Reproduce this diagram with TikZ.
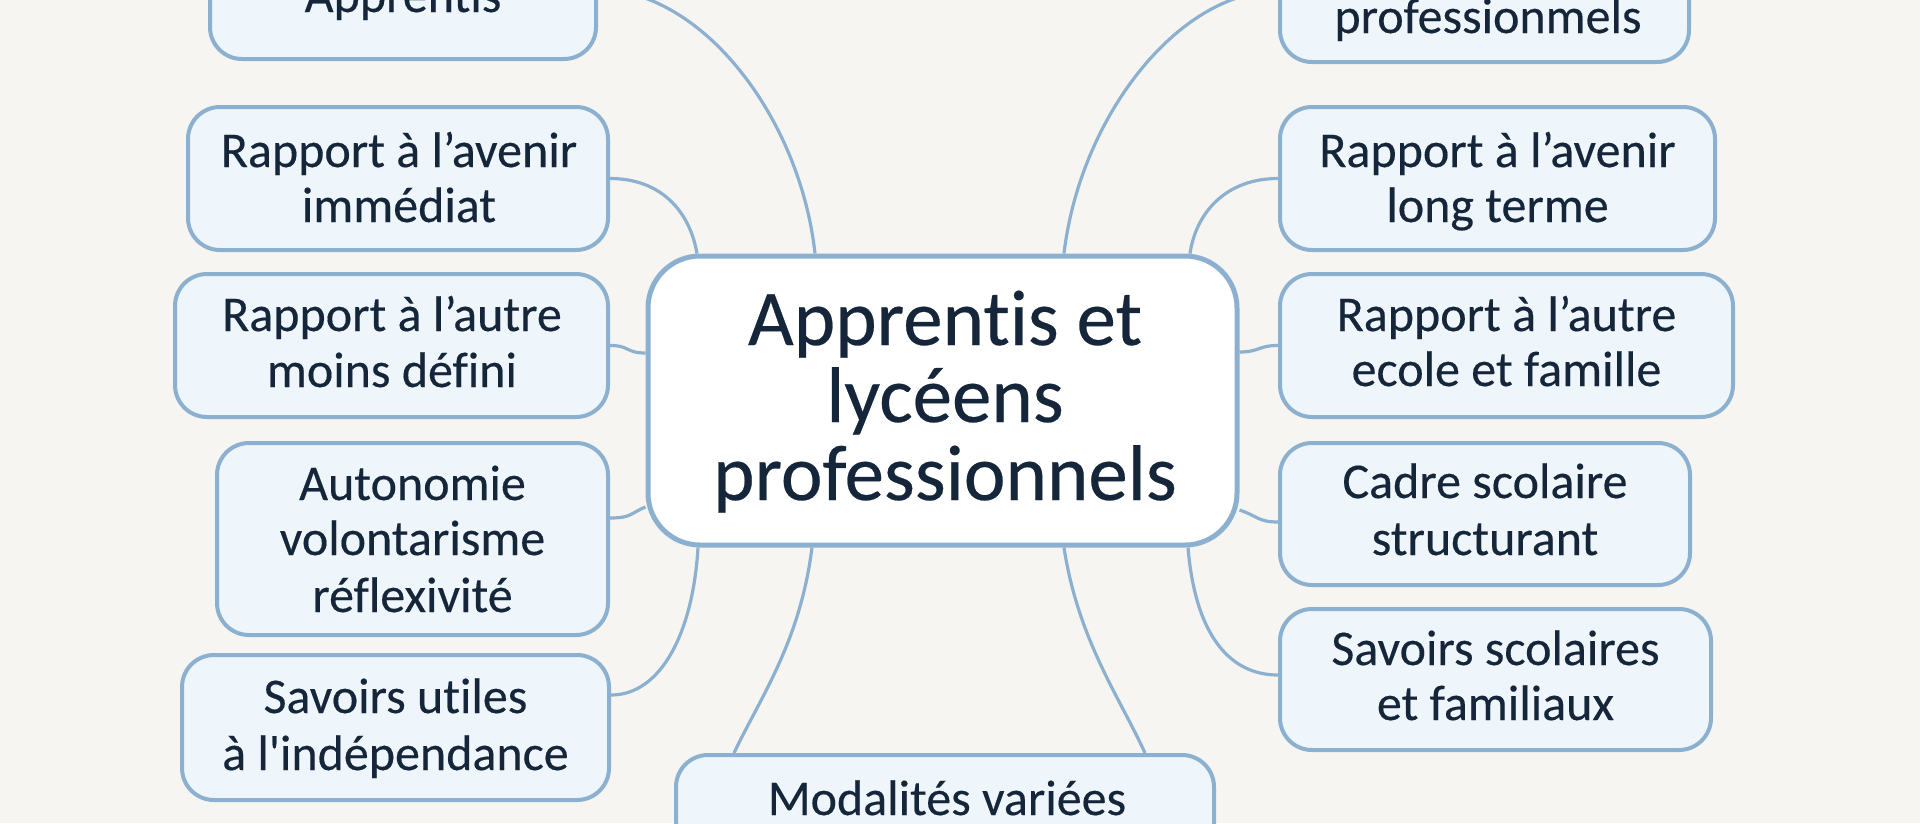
\documentclass[tikz,border=0pt]{standalone}
\usepackage{fontspec}
\setmainfont{Carlito}[Ligatures=NoCommon]
\newfontfamily\plainfont{Carlito}[Ligatures=NoCommon, FakeBold=0.3]
\usetikzlibrary{calc}
\definecolor{bgcol}{HTML}{F7F5F1}
\definecolor{edgecol}{HTML}{8CB0CF}
\definecolor{boxfill}{HTML}{EEF5FB}
\definecolor{ink}{HTML}{16263A}
\pgfdeclarelayer{back}
\pgfdeclarelayer{conn}
\pgfsetlayers{back,conn,main}
\begin{document}
\begin{tikzpicture}[x=1pt,y=-1pt,
  box/.style={draw=edgecol, line width=4pt, fill=boxfill, rounded corners=32pt, inner sep=0pt},
  hub/.style={draw=edgecol, line width=5pt, fill=white, rounded corners=52pt, inner sep=0pt},
  txt/.style={text=ink, font=\plainfont\fontsize{50pt}{55pt}\selectfont, inner sep=0pt, anchor=base},
  ttl/.style={text=ink, font=\plainfont\fontsize{79pt}{78pt}\selectfont, inner sep=0pt, anchor=base},
  conn/.style={draw=edgecol, line width=3.2pt}]
\useasboundingbox (0,0) rectangle (1920,823);
\begin{pgfonlayer}{back}
\fill[bgcol] (0,0) rectangle (1920,823);
\end{pgfonlayer}

% hub
\node[hub, minimum width=589pt, minimum height=289pt] (C) at (942.5,400.5) {};
\node[ttl] (Ca) at (945,345) {Apprentis et};
\node[ttl] (Cb) at (945,422) {lycéens};
\node[ttl] (Cc) at (945,500) {professionnels};

% left column
\node[box, minimum width=386pt, minimum height=139pt] (L0) at (403,-10.5) {};
\node[txt] (L0a) at (403,12) {Apprentis};

\node[box, minimum width=420pt, minimum height=143pt] (L1) at (398,178.5) {};
\node[txt] (L1a) at (399,167) {Rapport à l’avenir};
\node[txt] (L1b) at (399,222) {immédiat};

\node[box, minimum width=433pt, minimum height=143pt] (L2) at (391.5,345.5) {};
\node[txt] (L2a) at (392,331) {Rapport à l’autre};
\node[txt] (L2b) at (392,387) {moins défini};

\node[box, minimum width=391pt, minimum height=192pt] (L3) at (412.5,539) {};
\node[txt] (L3a) at (412.5,500) {Autonomie};
\node[txt] (L3b) at (412.5,555) {volontarisme};
\node[txt] (L3c) at (412.5,612) {réflexivité};

\node[box, minimum width=427pt, minimum height=145pt] (L4) at (395.5,727.5) {};
\node[txt] (L4a) at (395.5,713) {Savoirs utiles};
\node[txt] (L4b) at (395.5,770) {à l'indépendance};

% bottom
\node[box, minimum width=538pt, minimum height=145pt] (B) at (945,827.5) {};
\node[txt] (Ba) at (947,815) {Modalités variées};

% right column
\node[box, minimum width=409pt, minimum height=142pt] (R0) at (1484.5,-9) {};
\node[txt] (R0a) at (1488,33) {professionmels};

\node[box, minimum width=435pt, minimum height=143pt] (R1) at (1497.5,178.5) {};
\node[txt] (R1a) at (1497.5,167) {Rapport à l’avenir};
\node[txt] (R1b) at (1497.5,222) {long terme};

\node[box, minimum width=453pt, minimum height=143pt] (R2) at (1506.5,345.5) {};
\node[txt] (R2a) at (1506.5,331) {Rapport à l’autre};
\node[txt] (R2b) at (1506.5,386) {ecole et famille};

\node[box, minimum width=410pt, minimum height=142pt] (R3) at (1485,514) {};
\node[txt] (R3a) at (1485,498) {Cadre scolaire};
\node[txt] (R3b) at (1485,555) {structurant};

\node[box, minimum width=431pt, minimum height=141pt] (R4) at (1495.5,679.5) {};
\node[txt] (R4a) at (1495.5,665) {Savoirs scolaires};
\node[txt] (R4b) at (1495.5,720) {et familiaux};

% connector end points
\coordinate (p1a) at (L0.east);
\coordinate (p1b) at ([xshift=-127.5pt]C.north);
\coordinate (p2a) at (L1.east);
\coordinate (p2b) at ([xshift=-245.5pt]C.north);
\coordinate (p3a) at (L2.east);
\coordinate (p3b) at ([yshift=47.5pt]C.west);
\coordinate (p4a) at ([yshift=21pt]L3.east);
\coordinate (p4b) at ([yshift=-106.5pt]C.west);
\coordinate (p5a) at ([yshift=32.5pt]L4.east);
\coordinate (p5b) at ([xshift=-244.5pt]C.south);
\coordinate (p6a) at ([xshift=-130.5pt]C.south);
\coordinate (p6b) at ([xshift=-211pt]B.north);
\coordinate (p7a) at ([xshift=121.5pt]C.south);
\coordinate (p7b) at ([xshift=200pt]B.north);
\coordinate (p8a) at ([xshift=245.5pt]C.south);
\coordinate (p8b) at ([yshift=4.5pt]R4.west);
\coordinate (p9a) at ([yshift=-109.5pt]C.east);
\coordinate (p9b) at ([yshift=-8pt]R3.west);
\coordinate (p10a) at ([yshift=48.5pt]C.east);
\coordinate (p10b) at (R2.west);
\coordinate (p11a) at ([xshift=247.5pt]C.north);
\coordinate (p11b) at (R1.west);
\coordinate (p12a) at ([xshift=121.5pt]C.north);
\coordinate (p12b) at (R0.west);

\begin{pgfonlayer}{conn}
\draw[conn] (p1a) .. controls ($(p1a)+(104,0)$) and ($(p1b)+(-15,-136)$) .. (p1b);
\draw[conn] (p2a) .. controls ($(p2a)+(52,0)$) and ($(p2b)+(-7,-41)$) .. (p2b);
\draw[conn] (p3a) .. controls ($(p3a)+(20,0)$) and ($(p3b)+(-20,0)$) .. (p3b);
\draw[conn] (p4a) .. controls ($(p4a)+(22,0)$) and ($(p4b)+(-15,6)$) .. (p4b);
\draw[conn] (p5a) .. controls ($(p5a)+(50,0)$) and ($(p5b)+(-5,85)$) .. (p5b);
\draw[conn] (p6a) .. controls ($(p6a)+(-12,95)$) and ($(p6b)+(26,-55)$) .. (p6b);
\draw[conn] (p7a) .. controls ($(p7a)+(14,92)$) and ($(p7b)+(-25,-55)$) .. (p7b);
\draw[conn] (p8a) .. controls ($(p8a)+(7,85)$) and ($(p8b)+(-50,0)$) .. (p8b);
\draw[conn] (p9a) .. controls ($(p9a)+(18,6)$) and ($(p9b)+(-20,0)$) .. (p9b);
\draw[conn] (p10a) .. controls ($(p10a)+(20,0)$) and ($(p10b)+(-20,0)$) .. (p10b);
\draw[conn] (p11a) .. controls ($(p11a)+(6,-41)$) and ($(p11b)+(-52,0)$) .. (p11b);
\draw[conn] (p12a) .. controls ($(p12a)+(16,-136)$) and ($(p12b)+(-100,0)$) .. (p12b);
\end{pgfonlayer}
\end{tikzpicture}
\end{document}
